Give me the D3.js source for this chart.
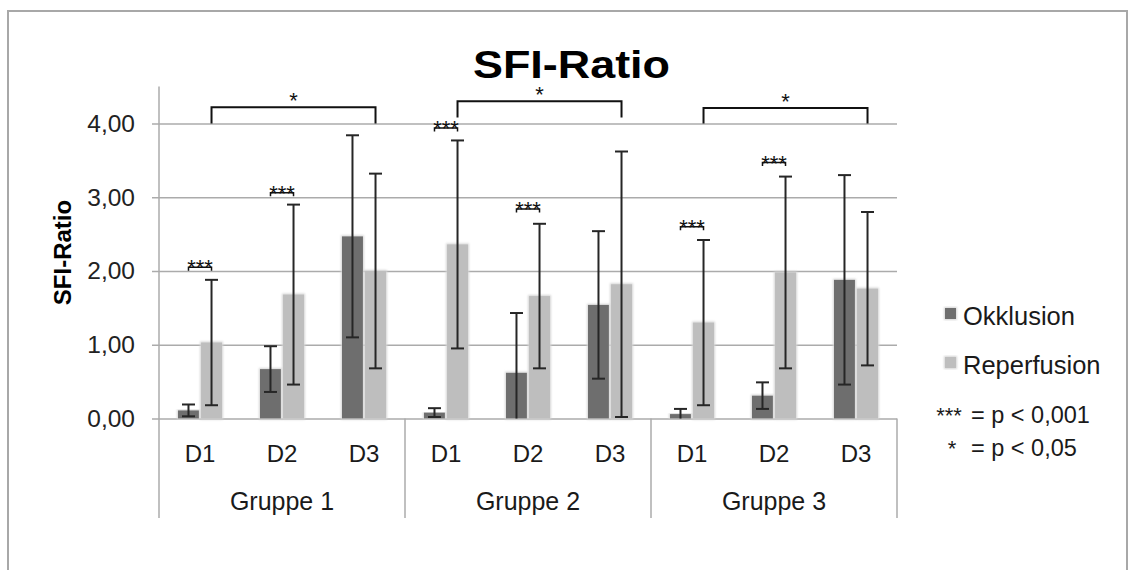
<!DOCTYPE html>
<html>
<head>
<meta charset="utf-8">
<script src="https://cdn.jsdelivr.net/npm/d3@7"></script>
<style>
    body { margin: 0; background: #fff; }
    svg { display: block; font-family: "Liberation Sans", Arial, sans-serif; }
    .grid line { stroke: #ababab; stroke-width: 1.5; }
    .err { stroke: #262626; stroke-width: 2; fill: none; }
    .sig { stroke: #111; fill: none; }
</style>
</head>
<body>
<div id="chart"></div>
<script>
const groups = ["Gruppe 1", "Gruppe 2", "Gruppe 3"]
const days = ["D1", "D2", "D3"]
const series = ["Okklusion", "Reperfusion"]
const yTicks = [0, 1, 2, 3, 4]

// one value per group/day, in order G1 D1..D3, G2 D1..D3, G3 D1..D3
const okklusionMean = [0.11, 0.67, 2.47, 0.08, 0.62, 1.54, 0.06, 0.31, 1.88]
const okklusionSD = [0.08, 0.31, 1.37, 0.06, 0.81, 1.00, 0.07, 0.18, 1.42]
const reperfusionMean = [1.03, 1.68, 2.00, 2.36, 1.66, 1.82, 1.30, 1.98, 1.76]
const reperfusionSD = [0.85, 1.22, 1.32, 1.41, 0.98, 1.80, 1.12, 1.30, 1.04]

// *** between Okklusion and Reperfusion on the same day
const dayBrackets = [
    { group: "Gruppe 1", day: "D1", level: 2.05 },
    { group: "Gruppe 1", day: "D2", level: 3.06 },
    { group: "Gruppe 2", day: "D1", level: 3.94 },
    { group: "Gruppe 2", day: "D2", level: 2.84 },
    { group: "Gruppe 3", day: "D1", level: 2.60 },
    { group: "Gruppe 3", day: "D2", level: 3.47 }
]
// * between D1 and D3 Reperfusion in each group
const groupBrackets = [
    { group: "Gruppe 1", from: "D1", to: "D3", level: 4.22, base: 4.00 },
    { group: "Gruppe 2", from: "D1", to: "D3", level: 4.30, base: 4.08 },
    { group: "Gruppe 3", from: "D1", to: "D3", level: 4.21, base: 4.00 }
]

const width = 1131, height = 570
const colors = { "Okklusion": "#6e6e6e", "Reperfusion": "#bebebe" }
const de = d3.formatLocale({ decimal: ",", thousands: ".", grouping: [3], currency: ["", " €"] })
const fmt = de.format(".2f")

let data = []
groups.forEach((g, gi) => {
    days.forEach((d, di) => {
        const i = gi * days.length + di
        data.push({ group: g, day: d, series: "Okklusion", mean: okklusionMean[i], sd: okklusionSD[i] })
        data.push({ group: g, day: d, series: "Reperfusion", mean: reperfusionMean[i], sd: reperfusionSD[i] })
    })
})

const svg = d3.select("#chart").append("svg")
    .attr("width", width)
    .attr("height", height)

// soft glow round the bars
const glow = svg.append("defs").append("filter")
    .attr("id", "glow")
    .attr("x", "-30%").attr("y", "-10%").attr("width", "160%").attr("height", "120%")
glow.append("feMorphology").attr("in", "SourceAlpha").attr("operator", "dilate").attr("radius", 1).attr("result", "d")
glow.append("feGaussianBlur").attr("in", "d").attr("stdDeviation", 1.2).attr("result", "b")
glow.append("feFlood").attr("flood-color", "#d4d4d4")
glow.append("feComposite").attr("in2", "b").attr("operator", "in").attr("result", "s")
const merge = glow.append("feMerge")
merge.append("feMergeNode").attr("in", "s")
merge.append("feMergeNode").attr("in", "SourceGraphic")

// outer frame
svg.append("rect")
    .attr("x", 8).attr("y", 11)
    .attr("width", 1119).attr("height", 600)
    .attr("fill", "none")
    .attr("stroke", "#a8a8a8")
    .attr("stroke-width", 2)

const x0 = d3.scaleBand().domain(groups).range([159, 897])
const x1 = d3.scaleBand().domain(days).range([0, x0.bandwidth()])
const x2 = d3.scaleBand().domain(series).range([19, 63]).paddingInner(0.09)
const y = d3.scaleLinear().domain([0, 4.5]).range([418.5, 86.6])

const barX = (g, d, s) => x0(g) + x1(d) + x2(s)
const barMid = (g, d, s) => barX(g, d, s) + x2.bandwidth() / 2

// gridlines + y labels
const yaxis = d3.axisLeft(y)
    .tickValues(yTicks)
    .tickSize(-(897 - 152))
    .tickPadding(17)
    .tickFormat(fmt)

svg.append("g")
    .attr("class", "grid")
    .attr("transform", "translate(152,0)")
    .call(yaxis)
    .call(g => g.select(".domain").remove())
    .call(g => g.selectAll(".tick line").attr("x1", 0).attr("x2", 897 - 152))
    .call(g => g.selectAll("text").attr("font-size", 24.5).attr("fill", "#222").attr("font-family", "Liberation Sans, Arial"))

// y axis line and group dividers
svg.append("line")
    .attr("x1", 159).attr("x2", 159)
    .attr("y1", y(4.5)).attr("y2", 518)
    .attr("stroke", "#ababab").attr("stroke-width", 1.5)

svg.selectAll(".divider")
    .data(groups.slice(1).map(g => x0(g)).concat([x0.range()[1]]))
    .enter().append("line")
    .attr("class", "divider")
    .attr("x1", d => d).attr("x2", d => d)
    .attr("y1", y(0)).attr("y2", 518)
    .attr("stroke", "#ababab").attr("stroke-width", 1.5)

// bars
svg.selectAll(".bar")
    .data(data)
    .enter().append("rect")
    .attr("class", "bar")
    .attr("x", d => barX(d.group, d.day, d.series))
    .attr("width", x2.bandwidth())
    .attr("y", d => y(d.mean))
    .attr("height", d => y(0) - y(d.mean))
    .attr("fill", d => colors[d.series])
    .attr("filter", "url(#glow)")

// error bars
const cap = 6.5
const errs = svg.selectAll(".errbar")
    .data(data)
    .enter().append("g")
    .attr("class", "err")
errs.append("line")
    .attr("x1", d => barMid(d.group, d.day, d.series))
    .attr("x2", d => barMid(d.group, d.day, d.series))
    .attr("y1", d => y(d.mean + d.sd))
    .attr("y2", d => y(Math.max(0, d.mean - d.sd)))
errs.append("line")
    .attr("x1", d => barMid(d.group, d.day, d.series) - cap)
    .attr("x2", d => barMid(d.group, d.day, d.series) + cap)
    .attr("y1", d => y(d.mean + d.sd))
    .attr("y2", d => y(d.mean + d.sd))
errs.filter(d => d.mean - d.sd > 0).append("line")
    .attr("x1", d => barMid(d.group, d.day, d.series) - cap)
    .attr("x2", d => barMid(d.group, d.day, d.series) + cap)
    .attr("y1", d => y(d.mean - d.sd))
    .attr("y2", d => y(d.mean - d.sd))

// category labels
svg.selectAll(".daylabel")
    .data(groups.flatMap(g => days.map(d => ({ group: g, day: d }))))
    .enter().append("text")
    .attr("x", d => x0(d.group) + x1(d.day) + x1.bandwidth() / 2)
    .attr("y", 462)
    .attr("text-anchor", "middle")
    .attr("font-size", 24)
    .attr("fill", "#1a1a1a")
    .text(d => d.day)

svg.selectAll(".grouplabel")
    .data(groups)
    .enter().append("text")
    .attr("x", d => x0(d) + x0.bandwidth() / 2)
    .attr("y", 510)
    .attr("text-anchor", "middle")
    .attr("font-size", 25)
    .attr("fill", "#1a1a1a")
    .text(d => d)

// significance: *** brackets
const leg = 3.5
const small = svg.selectAll(".daysig")
    .data(dayBrackets)
    .enter().append("g")
small.append("path")
    .attr("class", "sig")
    .attr("stroke-width", 1.5)
    .attr("d", d => {
        const a = barMid(d.group, d.day, "Okklusion"), b = barMid(d.group, d.day, "Reperfusion"), h = y(d.level)
        return `M${a},${h + leg}V${h}H${b}V${h + leg}`
    })
small.append("text")
    .attr("x", d => (barMid(d.group, d.day, "Okklusion") + barMid(d.group, d.day, "Reperfusion")) / 2)
    .attr("y", d => y(d.level) + 8)
    .attr("text-anchor", "middle")
    .attr("font-size", 22)
    .attr("fill", "#111")
    .text("***")

// significance: * brackets across days
const big = svg.selectAll(".groupsig")
    .data(groupBrackets)
    .enter().append("g")
big.append("path")
    .attr("class", "sig")
    .attr("stroke-width", 2)
    .attr("d", d => {
        const a = barMid(d.group, d.from, "Reperfusion"), b = barMid(d.group, d.to, "Reperfusion")
        return `M${a},${y(d.base)}V${y(d.level)}H${b}V${y(d.base)}`
    })
big.append("text")
    .attr("x", d => (barMid(d.group, d.from, "Reperfusion") + barMid(d.group, d.to, "Reperfusion")) / 2)
    .attr("y", d => y(d.level) + 1)
    .attr("text-anchor", "middle")
    .attr("font-size", 22)
    .attr("fill", "#111")
    .text("*")

// titles
svg.append("text")
    .attr("x", 571.5)
    .attr("y", 78)
    .attr("text-anchor", "middle")
    .attr("font-size", 38)
    .attr("font-weight", "bold")
    .attr("textLength", 197)
    .attr("lengthAdjust", "spacingAndGlyphs")
    .attr("fill", "#000")
    .text("SFI-Ratio")

svg.append("text")
    .attr("transform", "translate(71,252.5) rotate(-90)")
    .attr("text-anchor", "middle")
    .attr("font-size", 24)
    .attr("font-weight", "bold")
    .attr("fill", "#000")
    .text("SFI-Ratio")

// legend
const legend = svg.selectAll(".legend")
    .data(series)
    .enter().append("g")
    .attr("transform", (d, i) => `translate(945,${308 + i * 49})`)
legend.append("rect")
    .attr("width", 11).attr("height", 11)
    .attr("fill", d => colors[d])
    .attr("filter", "url(#glow)")
legend.append("text")
    .attr("x", 18).attr("y", 17)
    .attr("font-size", 25.5)
    .attr("fill", "#1a1a1a")
    .text(d => d)

const notes = [["***", "= p < 0,001"], ["*", "= p < 0,05"]]
const note = svg.selectAll(".note")
    .data(notes)
    .enter().append("g")
    .attr("transform", (d, i) => `translate(0,${423 + i * 33})`)
note.append("text")
    .attr("x", (d, i) => i == 0 ? 949 : 952)
    .attr("text-anchor", "middle")
    .attr("font-size", 22)
    .attr("fill", "#1a1a1a")
    .text(d => d[0])
note.append("text")
    .attr("x", 971)
    .attr("font-size", 23.5)
    .attr("fill", "#1a1a1a")
    .text(d => d[1])
</script>
</body>
</html>
